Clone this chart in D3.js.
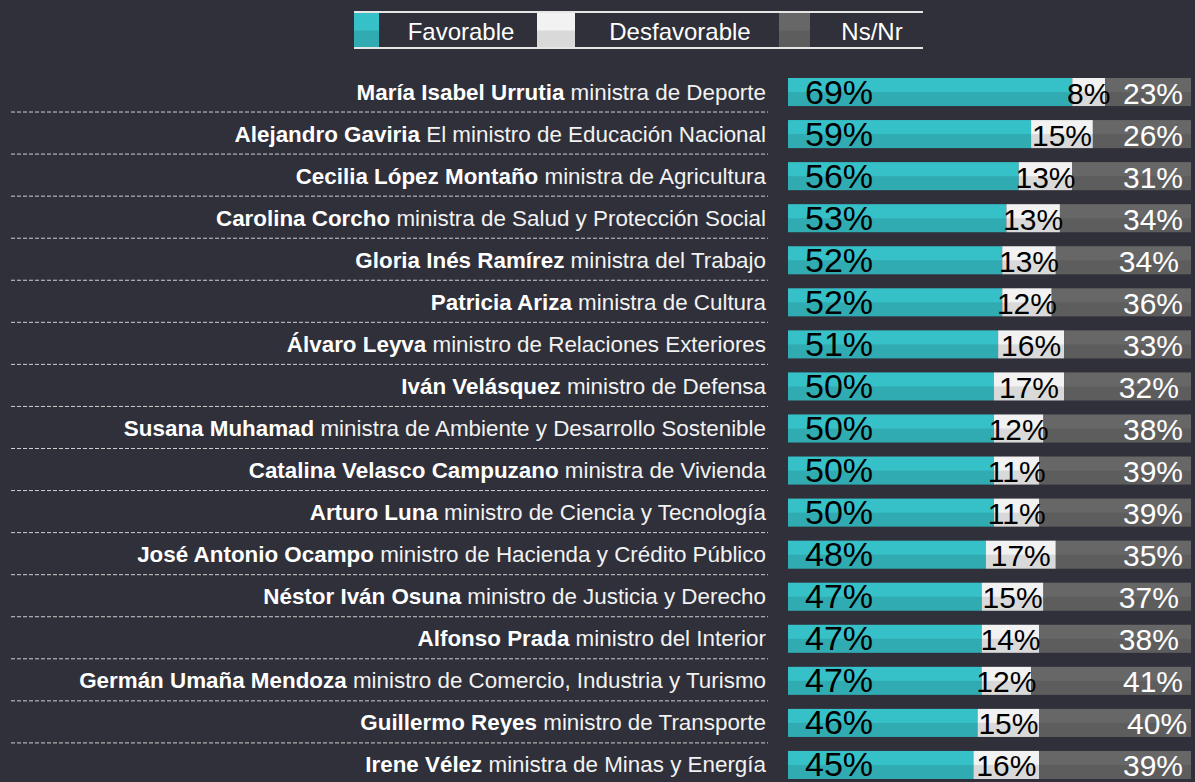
<!DOCTYPE html>
<html>
<head>
<meta charset="utf-8">
<script src="https://cdn.jsdelivr.net/npm/d3@7"></script>
<style>
  html, body { margin: 0; padding: 0; background: #30303a; }
  svg { display: block; font-family: "Liberation Sans", Arial, sans-serif; }
</style>
</head>
<body>
<div id="chart"></div>
<script>
// Chart size (matches the window)
var w = 1195;
var h = 782;

// Data
var names = ["María Isabel Urrutia", "Alejandro Gaviria", "Cecilia López Montaño", "Carolina Corcho",
  "Gloria Inés Ramírez", "Patricia Ariza", "Álvaro Leyva", "Iván Velásquez", "Susana Muhamad",
  "Catalina Velasco Campuzano", "Arturo Luna", "José Antonio Ocampo", "Néstor Iván Osuna",
  "Alfonso Prada", "Germán Umaña Mendoza", "Guillermo Reyes", "Irene Vélez"];
var roles = ["ministra de Deporte", "El ministro de Educación Nacional", "ministra de Agricultura",
  "ministra de Salud y Protección Social", "ministra del Trabajo", "ministra de Cultura",
  "ministro de Relaciones Exteriores", "ministro de Defensa", "ministra de Ambiente y Desarrollo Sostenible",
  "ministra de Vivienda", "ministro de Ciencia y Tecnología", "ministro de Hacienda y Crédito Público",
  "ministro de Justicia y Derecho", "ministro del Interior", "ministro de Comercio, Industria y Turismo",
  "ministro de Transporte", "ministra de Minas y Energía"];
var favorable    = [69, 59, 56, 53, 52, 52, 51, 50, 50, 50, 50, 48, 47, 47, 47, 46, 45];
var desfavorable = [8, 15, 13, 13, 13, 12, 16, 17, 12, 11, 11, 17, 15, 14, 12, 15, 16];
var nsnr         = [23, 26, 31, 34, 34, 36, 33, 32, 38, 39, 39, 35, 37, 38, 41, 40, 39];
var legendLabels = ["Favorable", "Desfavorable", "Ns/Nr"];

// colours: [top half, bottom half]
var colors = [["#36c1c8", "#30abb1"], ["#f2f2f2", "#d9d9d9"], ["#676767", "#5d5d5d"]];

var rows = names.map(function(n, i) {
  return { name: n, role: roles[i], vals: [favorable[i], desfavorable[i], nsnr[i]] };
});

var svg = d3.select('#chart').append('svg')
  .attr('width', w)
  .attr('height', h);

var defs = svg.append('defs');
colors.forEach(function(c, i) {
  var g = defs.append('linearGradient')
    .attr('id', 'grad' + i)
    .attr('x1', 0).attr('x2', 0).attr('y1', 0).attr('y2', 1);
  g.append('stop').attr('offset', '0%').attr('stop-color', c[0]);
  g.append('stop').attr('offset', '48%').attr('stop-color', c[0]);
  g.append('stop').attr('offset', '52%').attr('stop-color', c[1]);
  g.append('stop').attr('offset', '100%').attr('stop-color', c[1]);
});
defs.append('clipPath').attr('id', 'barclip')
  .append('rect').attr('x', 788).attr('y', 0).attr('width', 403).attr('height', h);

// Scales
var x = d3.scaleLinear().domain([0, 100]).range([788, 1200]);
var y = d3.scaleBand().domain(names).range([71, 786])
  .paddingInner(0.333).paddingOuter(0.1665);
var bw = y.bandwidth();

// Legend
var legendLayout = [
  { sx: 354, sw: 25, tx: 461 },
  { sx: 537, sw: 38, tx: 680 },
  { sx: 779, sw: 31, tx: 872 }
];
var legend = svg.append('g').attr('class', 'legend');
legend.selectAll('rect.sw')
  .data(legendLabels)
  .enter().append('rect')
    .attr('class', 'sw')
    .attr('x', function(d, i) { return legendLayout[i].sx; })
    .attr('y', 13)
    .attr('width', function(d, i) { return legendLayout[i].sw; })
    .attr('height', 35)
    .attr('fill', function(d, i) { return 'url(#grad' + i + ')'; });
legend.selectAll('text')
  .data(legendLabels)
  .enter().append('text')
    .attr('x', function(d, i) { return legendLayout[i].tx; })
    .attr('y', 40)
    .attr('text-anchor', 'middle')
    .attr('fill', '#ffffff')
    .style('font-size', '24px')
    .text(function(d) { return d; });
[12, 48].forEach(function(ly) {
  legend.append('line')
    .attr('x1', 354).attr('x2', 923)
    .attr('y1', ly).attr('y2', ly)
    .attr('stroke', '#e6e6e6').attr('stroke-width', 2);
});

// Separators between rows
svg.append('g').selectAll('line')
  .data(rows.slice(0, rows.length - 1))
  .enter().append('line')
    .attr('x1', 11).attr('x2', 768)
    .attr('y1', function(d) { return y(d.name) + bw / 2 + 20; })
    .attr('y2', function(d) { return y(d.name) + bw / 2 + 20; })
    .attr('stroke', '#cfcfcf')
    .attr('stroke-width', 1)
    .attr('stroke-dasharray', '4,2');

// Row labels
var labels = svg.append('g').selectAll('text')
  .data(rows)
  .enter().append('text')
    .attr('x', 766)
    .attr('y', function(d) { return y(d.name) + bw / 2 + 7.5; })
    .attr('text-anchor', 'end')
    .attr('fill', '#f2f2f2')
    .style('font-size', '22.4px');
labels.append('tspan').attr('font-weight', 'bold').attr('fill', '#ffffff')
  .text(function(d) { return d.name; });
labels.append('tspan').text(function(d) { return ' ' + d.role; });

// Stacked bars
var rowG = svg.append('g').attr('clip-path', 'url(#barclip)')
  .selectAll('g.row')
  .data(rows)
  .enter().append('g')
    .attr('class', 'row')
    .attr('transform', function(d) { return 'translate(0,' + y(d.name) + ')'; });

rowG.selectAll('rect')
  .data(function(d) {
    var acc = 0;
    return d.vals.map(function(v, i) {
      var s = { i: i, v: v, x0: acc, x1: acc + v };
      acc += v;
      return s;
    });
  })
  .enter().append('rect')
    .attr('x', function(s) { return x(s.x0); })
    .attr('y', 0)
    .attr('width', function(s) { return x(s.x1) - x(s.x0); })
    .attr('height', bw)
    .attr('fill', function(s) { return 'url(#grad' + s.i + ')'; });

// Value labels
var vlab = svg.append('g').selectAll('g')
  .data(rows)
  .enter().append('g')
    .attr('transform', function(d) { return 'translate(0,' + (y(d.name) + bw / 2) + ')'; });

vlab.append('text')
  .attr('x', x(0) + 17)
  .attr('y', 11.5)
  .attr('fill', '#000')
  .style('font-size', '34px')
  .text(function(d) { return d.vals[0] + '%'; });

vlab.append('text')
  .attr('x', function(d) { return x(d.vals[0] + d.vals[1] / 2); })
  .attr('y', 11.5)
  .attr('text-anchor', 'middle')
  .attr('fill', '#000')
  .style('font-size', '30px')
  .text(function(d) { return d.vals[1] + '%'; });

vlab.append('text')
  .attr('x', function(d) { return x(d.vals[0] + d.vals[1] + d.vals[2]) - 17; })
  .attr('y', 11.5)
  .attr('text-anchor', 'end')
  .attr('fill', '#fff')
  .style('font-size', '30px')
  .text(function(d) { return d.vals[2] + '%'; });
</script>
</body>
</html>
